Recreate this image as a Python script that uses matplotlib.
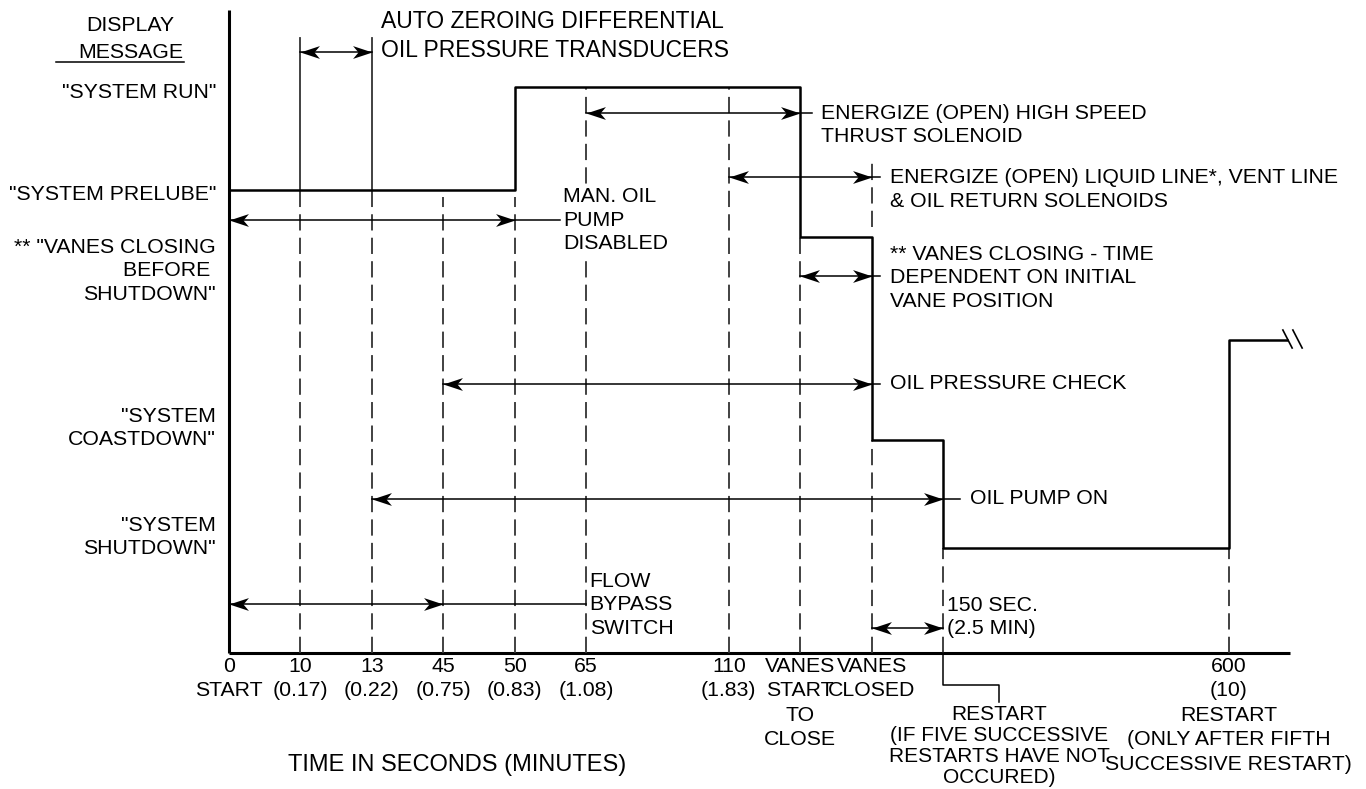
import matplotlib.pyplot as plt
from matplotlib.path import Path

plt.rcParams['font.family'] = ['Liberation Sans', 'DejaVu Sans']

# time axis: events in order, placed on a schematic (not to scale) slot grid
event_slot = [0, 1, 2, 3, 4, 5, 7, 8, 9, 10, 14]
event_labels = ['0\nSTART', '10\n(0.17)', '13\n(0.22)', '45\n(0.75)', '50\n(0.83)',
                '65\n(1.08)', '110\n(1.83)', 'VANES\nSTART\nTO\nCLOSE', 'VANES\nCLOSED', '',
                '600\n(10)\nRESTART\n(ONLY AFTER FIFTH\nSUCCESSIVE RESTART)']
restart_label = 'RESTART\n(IF FIVE SUCCESSIVE\nRESTARTS HAVE NOT\nOCCURED)'

# display messages (y levels in arbitrary units)
state_names = ['"SYSTEM RUN"', '"SYSTEM PRELUBE"', '** "VANES CLOSING\nBEFORE \nSHUTDOWN"',
               '"SYSTEM\nCOASTDOWN"', '"SYSTEM\nSHUTDOWN"']
state_label_y = [56.0, 45.9, 38.2, 22.5, 11.6]

# display message trace
signal_x = [0, 4, 8, 9, 10, 14, 14.82]
signal_y = [46.3, 56.6, 41.6, 21.3, 10.5, 31.3, 31.3]

# dashed guide lines at the events
guide_slot = [1, 2, 3, 4, 5, 7, 8, 9, 9, 10, 14]
guide_top = [46.3, 46.3, 45.6, 45.6, 56.6, 56.6, 41.6, 49.6, 21.3, 10.5, 10.5]
guide_bottom = [0, 0, 0, 0, 0, 0, 0, 42.6, 0, 0, 0]

# timed actions (double arrows)
span_start = [1, 5, 7, 0, 8, 3, 2, 0, 9]
span_end = [2, 8, 9, 4, 9, 9, 10, 3, 10]
span_y = [60.1, 54.0, 47.6, 43.3, 37.7, 26.9, 15.4, 4.9, 2.5]
span_tail = [2, 8.17, 9.12, 4.63, 9.12, 9.12, 10.24, 5.0, 10]
span_text = ['AUTO ZEROING DIFFERENTIAL\nOIL PRESSURE TRANSDUCERS',
             'ENERGIZE (OPEN) HIGH SPEED\nTHRUST SOLENOID',
             'ENERGIZE (OPEN) LIQUID LINE*, VENT LINE\n& OIL RETURN SOLENOIDS',
             'MAN. OIL\nPUMP\nDISABLED',
             '** VANES CLOSING - TIME\nDEPENDENT ON INITIAL\nVANE POSITION',
             'OIL PRESSURE CHECK',
             'OIL PUMP ON',
             'FLOW\nBYPASS\nSWITCH',
             '150 SEC.\n(2.5 MIN)']
text_x = [2.13, 8.29, 9.26, 4.68, 9.26, 9.26, 10.38, 5.05, 10.05]
text_y = [61.7, 52.8, 46.35, 43.3, 37.5, 26.9, 15.4, 4.8, 3.6]

px_per_slot = 71.4
fig = plt.figure(figsize=(13.66, 7.89), dpi=100)
ax = fig.add_axes([0, 0, 1, 1])
ax.set_xlim(-229 / px_per_slot, (1366 - 229) / px_per_slot)
ax.set_ylim(-13.6, 65.3)
ax.axis('off')

# stealth style arrow heads, tip at origin
head_r = Path([(0, 0), (-1, 0.33), (-0.72, 0), (-1, -0.33), (0, 0)],
              [Path.MOVETO, Path.LINETO, Path.LINETO, Path.LINETO, Path.CLOSEPOLY])
head_l = Path([(0, 0), (1, 0.33), (0.72, 0), (1, -0.33), (0, 0)],
              [Path.MOVETO, Path.LINETO, Path.LINETO, Path.LINETO, Path.CLOSEPOLY])

# axes lines
ax.plot([0, 0], [0, 64.3], color='black', lw=2.2, solid_capstyle='butt')
ax.plot([0, 14.86], [0, 0], color='black', lw=2.2, solid_capstyle='butt')

# guide lines
for s, top, bot in zip(guide_slot, guide_top, guide_bottom):
    ax.plot([s, s], [bot, top], color='#333333', lw=1.3, ls=(0, (9, 4)))
# extension lines for the auto zeroing window
for s in span_start[:1] + span_end[:1]:
    ax.plot([s, s], [46.3, 61.5], color='#333333', lw=1.3)

# restart leader under the axis
ax.plot([10, 10, 10.79, 10.79], [0, -3.2, -3.2, -4.9], color='black', lw=1.1)

# display message trace
ax.step(signal_x, signal_y, where='post', color='black', lw=1.8)
# break mark at the end of the trace
bx, by = signal_x[-1], signal_y[-1]
for off in (-0.06, 0.08):
    ax.plot([bx + off, bx + off + 0.13], [by + 1.0, by - 0.8], color='black', lw=1.2)

# timed actions
for i, (x0, x1, y, tail, txt, tx, ty) in enumerate(zip(span_start, span_end, span_y, span_tail,
                                                       span_text, text_x, text_y)):
    ax.plot([x0, max(x1, tail)], [y, y], color='black', lw=1.1)
    ax.plot([x0], [y], marker=head_l, ms=28, color='black', mew=0, ls='none')
    ax.plot([x1], [y], marker=head_r, ms=28, color='black', mew=0, ls='none')
    big = i == 0
    ax.text(tx, ty, txt, fontsize=16.5 if big else 15.3, ha='left', va='center',
            linespacing=1.38 if big else 1.32,
            bbox=dict(facecolor='white', edgecolor='none', pad=1))

# y side labels
ax.text(-1.38, 61.4, 'DISPLAY\nMESSAGE', fontsize=15.3, ha='center', va='center',
        linespacing=1.55)
ax.plot([-2.42, -0.63], [59.1, 59.1], color='black', lw=1.1)
for name, y in zip(state_names, state_label_y):
    ax.text(-0.18, y, name, fontsize=15.3, ha='right', va='center', ma='right',
            linespacing=1.32)

# time axis labels
for s, lab in zip(event_slot, event_labels):
    ax.text(s, -0.35, lab, fontsize=15.3, ha='center', va='top', linespacing=1.37)
ax.text(10.79, -5.2, restart_label, fontsize=15, ha='center', va='top', linespacing=1.13)
ax.text(3.19, -11.2, 'TIME IN SECONDS (MINUTES)', fontsize=17, ha='center', va='center')

fig.savefig('out.png', dpi=100)
